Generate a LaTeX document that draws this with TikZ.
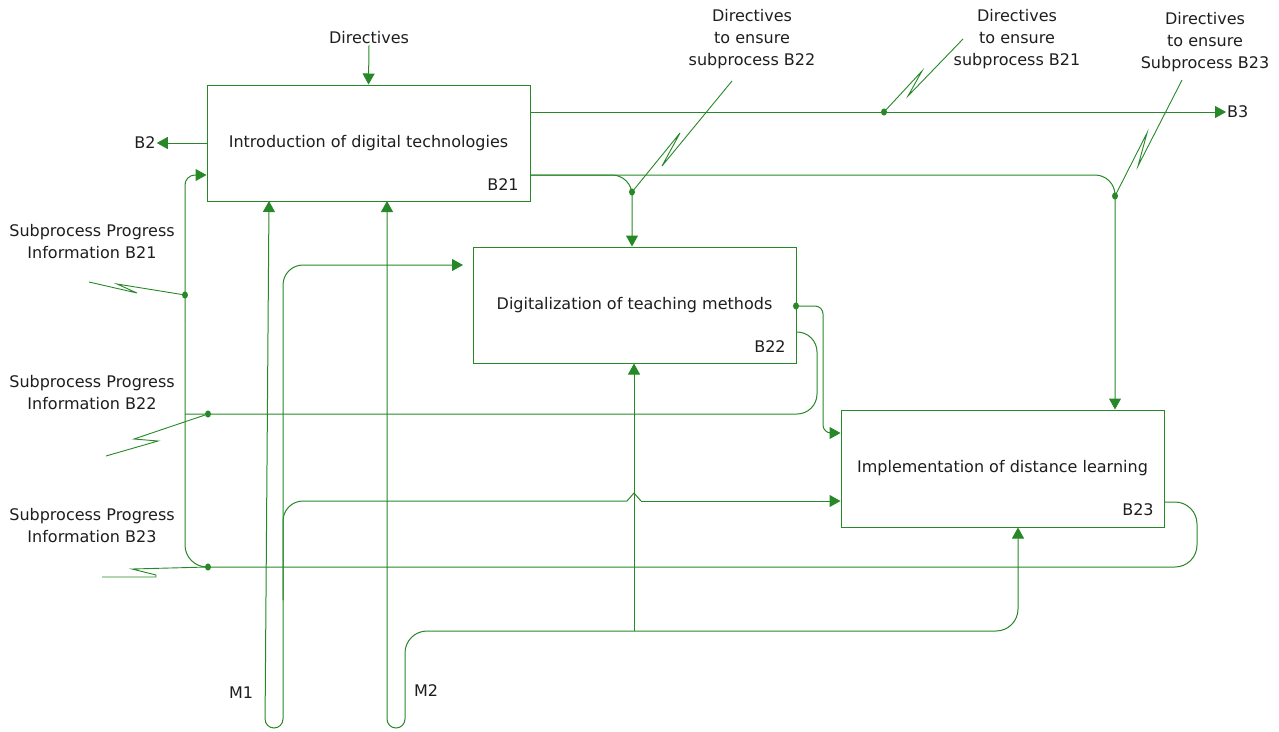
\documentclass[tikz,border=0pt]{standalone}
\usepackage{fontspec}
\setmainfont{DejaVu Sans}
\usetikzlibrary{arrows.meta}
\definecolor{gl}{RGB}{38,136,38}
\definecolor{tx}{RGB}{30,30,30}
\begin{document}
\begin{tikzpicture}[x=1pt,y=-1pt,
  line/.style={draw=gl, line width=1pt},
  arr/.style={line, -{Triangle[length=11pt,width=12pt]}},
  box/.style={draw=gl, line width=1pt, minimum width=323pt, minimum height=116pt, inner sep=0pt, font=\fontsize{16}{21}\selectfont, text=tx},
  lbl/.style={font=\fontsize{16}{22}\selectfont, text=tx, align=center, inner sep=1pt},
]
\useasboundingbox (0,0) rectangle (1279,731);

% boxes
\node[box] (b21) at (368.5,143) {Introduction of digital technologies};
\node[box] (b22) at (634.5,305) {Digitalization of teaching methods};
\node[box, minimum height=117pt] (b23) at (1002.5,468.5) {Implementation of distance learning};
\node[lbl] (n21) at (503,185) {B21};
\node[lbl] (n22) at (770,347) {B22};
\node[lbl] (n23) at (1138,510) {B23};

% labels
\node[lbl] (dir) at (369,38) {Directives};
\node[lbl] (b2) at (145,143) {B2};
\node[lbl, anchor=west] (b3) at (1226,112) {B3};
\node[lbl] (d22) at (752,39) {Directives\\to ensure\\subprocess B22};
\node[lbl] (d21) at (1017,39) {Directives\\to ensure\\subprocess B21};
\node[lbl] (d23) at (1205,42) {Directives\\to ensure\\Subprocess B23};
\node[lbl] (i21) at (92,242) {Subprocess Progress\\Information B21};
\node[lbl] (i22) at (92,393) {Subprocess Progress\\Information B22};
\node[lbl] (i23) at (92,526) {Subprocess Progress\\Information B23};
\node[lbl] (m1) at (241,693) {M1};
\node[lbl] (m2) at (426,691) {M2};

% junction coordinates
\coordinate (j21) at (884,112);
\coordinate (j22) at (632,192);
\coordinate (j23) at (1115,196);
\coordinate (o21) at (530,175);
\coordinate (ji21) at (185,295);
\coordinate (ji22) at (208,414);
\coordinate (ji23) at (208,567);
\coordinate (o22) at (796,306);
\coordinate (f22) at (796,332);
\coordinate (f23) at (1164,502);
\coordinate (in21) at (185,175);
\coordinate (m1a) at (283,600);
\coordinate (m1t) at (269,201);
\coordinate (m2a) at (405,690);
\coordinate (m2t) at (387,201);
\coordinate (mc) at (634,631);
\coordinate (hop) at (634,493);

% controls
\draw[arr] (dir.south) -- (b21.north);
\draw[arr] (b21.west) -- (b2.east);
\draw[arr] (b21.east |- b3.west) -- (b3.west);
\draw[arr, rounded corners=20pt] (o21) -- (o21 -| j22) -- (b22.north -| j22);
\draw[arr, rounded corners=20pt] (o21) -- (o21 -| j23) -- (b23.north -| j23);

% leaders of directives
\draw[line, line width=0.9pt] (j21) -- (922,71) -- (908,96) -- (963,39);
\draw[line, line width=0.9pt] (j22) -- (680,133) -- (662,166) -- (732,81);
\draw[line, line width=0.9pt] (j23) -- (1147,133) -- (1138,166) -- (1182,80);

% feedback lines
\draw[line, rounded corners=22pt] (f23) -- (1197,502) -- (1197,567) -- (185,567) -- (185,320);
\draw[arr, rounded corners=10pt] (185,320) -- (in21) -- (b21.west |- in21);
\draw[line, rounded corners=20pt] (f22) -- (817,332) -- (817,414) -- (185,414);
\draw[arr, rounded corners=8pt] (o22) -- (823,306) -- (823,433) -- (b23.west |- 823,433);

% leaders of progress information
\draw[line, line width=0.9pt] (89,282) -- (137,293) -- (117,284) -- (ji21);
\draw[line, line width=0.9pt] (106,456) -- (158,441) -- (134,439) -- (ji22);
\draw[line, line width=0.9pt] (102,577) -- (156,577) -- (156,575) -- (132,569) -- (ji23);

% mechanism M1
\draw[arr, rounded corners=9pt] (m1a) -- (283,728) -- (265,728) -- (m1t);
\draw[arr, rounded corners=20pt] (m1a) -- (283,265) -- (463,265);
\draw[line, rounded corners=20pt] (m1a) -- (283,501) -- (627,501);
\draw[line] (627,501) -- (hop) -- (641,501);
\draw[arr] (641,501) -- (b23.west |- 641,501);

% mechanism M2
\draw[arr, rounded corners=9pt] (m2a) -- (405,728) -- (387,728) -- (m2t);
\draw[arr, rounded corners=22pt] (m2a) -- (405,631) -- (1018,631) -- (b23.south -| 1018,631);
\draw[arr] (mc) -- (b22.south -| mc);

% dots
\foreach \p in {j21,j22,j23,ji21,ji22,ji23,o22}
  \fill[gl] (\p) ellipse (3pt and 3.6pt);
\end{tikzpicture}
\end{document}
